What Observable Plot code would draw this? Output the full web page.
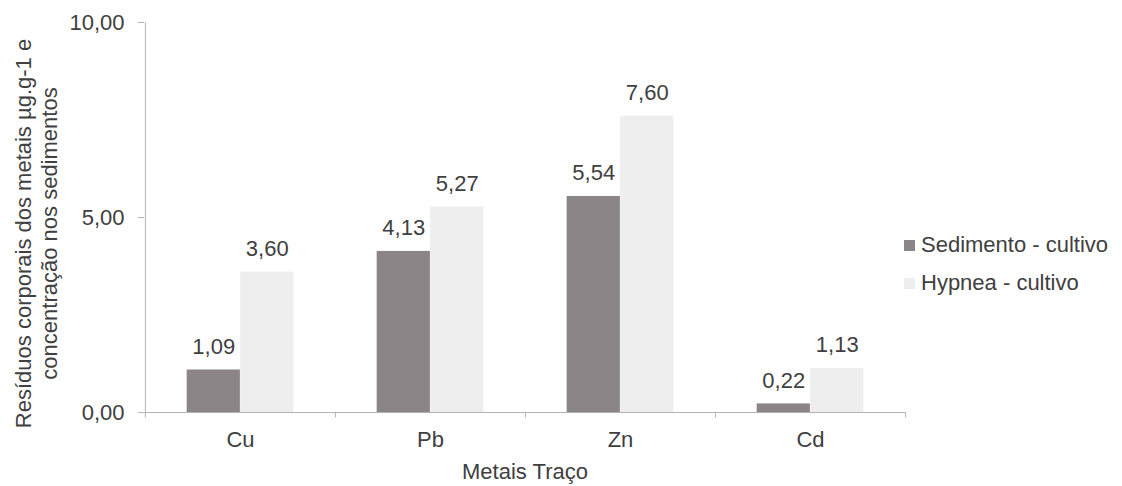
<!DOCTYPE html>
<html>
<head>
<meta charset="utf-8">
<script src="https://cdn.jsdelivr.net/npm/d3@7"></script>
<script src="https://cdn.jsdelivr.net/npm/@observablehq/plot@0.6"></script>
<style>
  html, body { margin: 0; padding: 0; background: #fff; }
  #chart { position: relative; width: 1122px; height: 486px; font-family: "Liberation Sans", Arial, sans-serif; }
  #legend { position: absolute; left: 904px; top: 226px; font-size: 22px; color: #404040; }
  #legend .row { display: flex; align-items: center; height: 38px; }
  #legend .sw { width: 11px; height: 11px; margin-right: 6px; }
</style>
</head>
<body>
<div id="chart"></div>
<script>
// Trace metals and their values per series
const metals = ["Cu", "Pb", "Zn", "Cd"];
const sedimento = [1.09, 4.13, 5.54, 0.22];
const hypnea = [3.60, 5.27, 7.60, 1.13];
const seriesNames = ["Sedimento - cultivo", "Hypnea - cultivo"];
const yTicks = [0, 5, 10];
const yTitle = "Resíduos corporais dos metais µg.g-1 e\nconcentração nos sedimentos";
const xTitle = "Metais Traço";

const colors = ["#8b8587", "#eeeeee"];
const axisColor = "#b4b4b4";
const textColor = "#404040";
const fontSize = 22;

const width = 1122, height = 486;
const marginLeft = 144, marginRight = 217, marginTop = 22, marginBottom = 74;
const bw = (width - marginLeft - marginRight) / metals.length; // band width
const barW = bw * 0.281; // each bar of a pair

const fmt = d => d.toFixed(2).replace(".", ",");

const sedRows = metals.map((m, i) => ({metal: m, value: sedimento[i]}));
const hypRows = metals.map((m, i) => ({metal: m, value: hypnea[i]}));

const chart = Plot.plot({
  width, height, marginLeft, marginRight, marginTop, marginBottom,
  style: {fontFamily: "'Liberation Sans', Arial, sans-serif", fontSize: `${fontSize}px`, background: "#fff"},
  x: {domain: metals, padding: 0, axis: null},
  y: {domain: [0, 10], axis: null},
  marks: [
    Plot.barY(sedRows, {x: "metal", y: "value", fill: colors[0], insetLeft: bw / 2 - barW, insetRight: bw / 2}),
    Plot.barY(hypRows, {x: "metal", y: "value", fill: colors[1], insetLeft: bw / 2, insetRight: bw / 2 - barW}),
    Plot.text(sedRows, {x: "metal", y: "value", text: d => fmt(d.value), dx: -barW / 2, dy: -16, lineAnchor: "bottom", fill: textColor, fontSize}),
    Plot.text(hypRows, {x: "metal", y: "value", text: d => fmt(d.value), dx: barW / 2, dy: -16, lineAnchor: "bottom", fill: textColor, fontSize}),
    // axis lines
    Plot.ruleY([0], {stroke: axisColor}),
    Plot.ruleX([metals[0]], {y1: 0, y2: 10, dx: -bw / 2, stroke: axisColor}),
    // category boundary ticks
    Plot.ruleX(metals, {y1: 0, y2: -0.14, dx: -bw / 2, stroke: axisColor}),
    Plot.ruleX([metals[metals.length - 1]], {y1: 0, y2: -0.14, dx: bw / 2, stroke: axisColor}),
    Plot.axisY(yTicks, {tickSize: 6, tickPadding: 14, tickFormat: fmt, stroke: axisColor, fill: textColor, fontSize, label: null}),
    Plot.axisX({tickSize: 0, tickPadding: 19, fill: textColor, fontSize, label: null}),
    Plot.text([xTitle], {frameAnchor: "bottom", dy: 66, fill: textColor, fontSize}),
    Plot.text([yTitle], {frameAnchor: "left", textAnchor: "middle", dx: -109, dy: 16, rotate: -90, fill: textColor, fontSize, lineHeight: 1.17})
  ]
});

const root = document.getElementById("chart");
root.appendChild(chart);

const legend = document.createElement("div");
legend.id = "legend";
seriesNames.forEach((name, i) => {
  const row = document.createElement("div");
  row.className = "row";
  const sw = document.createElement("span");
  sw.className = "sw";
  sw.style.background = colors[i];
  const label = document.createElement("span");
  label.textContent = name;
  row.append(sw, label);
  legend.appendChild(row);
});
root.appendChild(legend);
</script>
</body>
</html>
